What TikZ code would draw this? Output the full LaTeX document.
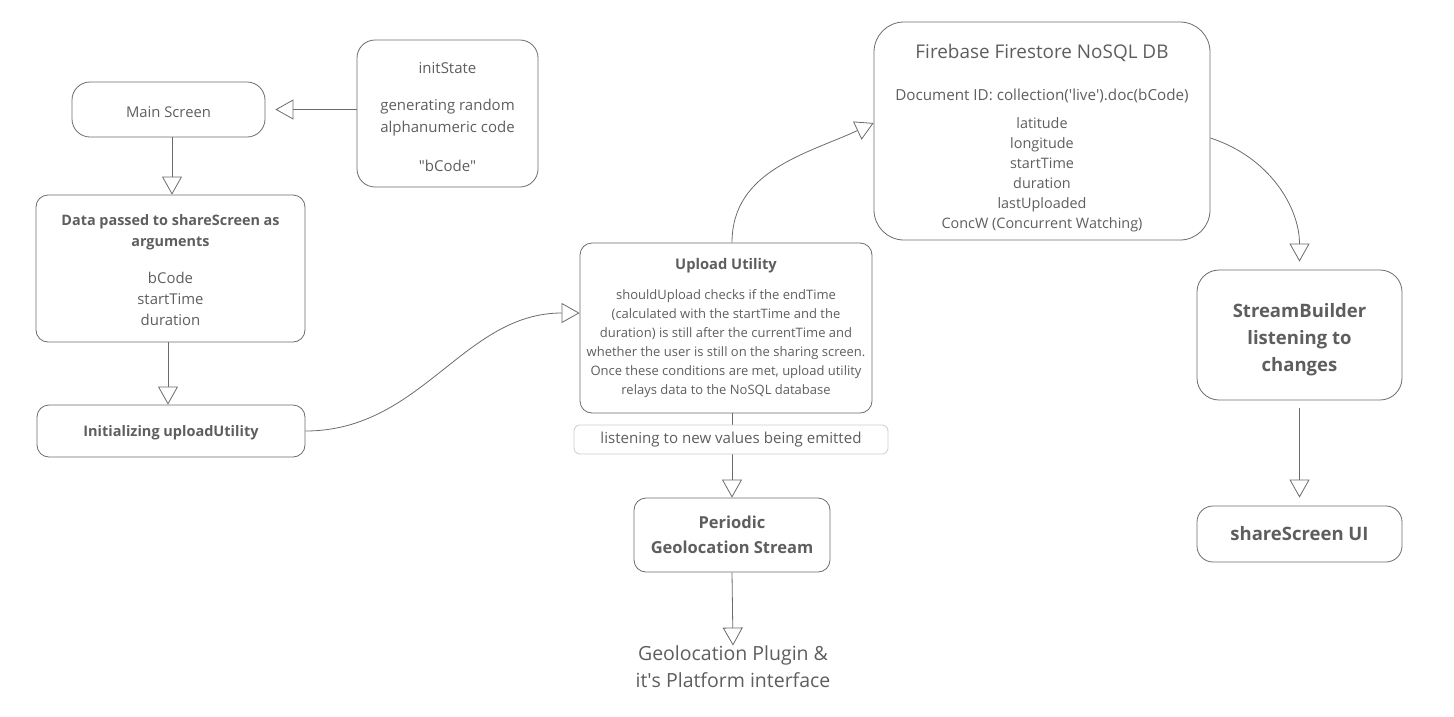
\documentclass[tikz,border=0pt]{standalone}
\usepackage{fontspec}
\setmainfont{Open Sans}
\usetikzlibrary{arrows.meta}
\definecolor{ink}{HTML}{5E5E5E}
\definecolor{edge}{HTML}{6B6B6B}
\definecolor{faint}{HTML}{CCCCCC}
\begin{document}
\begin{tikzpicture}[x=1pt,y=-1pt,line width=0.8pt,
  box/.style={draw=edge,rounded corners=12pt,text=ink,align=center,inner sep=0pt},
  tag/.style={draw=faint,fill=white,rounded corners=6pt,text=ink,inner sep=0pt},
  flow/.style={draw=edge,-{Triangle[length=18pt,width=20pt,fill=white]}}]
\useasboundingbox (0,0) rectangle (1454,716);
% left column
  \node[box,rounded corners=18pt,minimum width=193pt,minimum height=55pt,font=\fontsize{14.8}{19}\selectfont] (main) at (168.5,109.5) {\rule{0pt}{17pt}Main Screen};
  \node[box,rounded corners=18pt,minimum width=181pt,minimum height=147pt,font=\fontsize{15}{22}\selectfont] (init) at (447.5,113.5)
    {\rule{0pt}{19pt}initState\\[15pt]generating random\\alphanumeric code\\[17pt]\textquotedbl bCode\textquotedbl};
  \node[box,minimum width=269pt,minimum height=147pt,font=\fontsize{14.9}{21}\selectfont] (args) at (170.5,268.5)
    {\rule{0pt}{15pt}{\fontsize{14.4}{21}\selectfont\bfseries Data passed to shareScreen as}\\{\fontsize{14.4}{21}\selectfont\bfseries arguments}\\[16pt]bCode\\startTime\\duration};
  \node[box,minimum width=268pt,minimum height=52pt,font=\fontsize{14.5}{19}\selectfont\bfseries] (initup) at (171,431) {\rule{0pt}{15pt}Initializing uploadUtility};
% middle column
  \node[box,minimum width=292pt,minimum height=170pt,font=\fontsize{13}{19}\selectfont] (up) at (726,328)
    {{\fontsize{14.7}{19}\selectfont\bfseries Upload Utility}\\[11pt]shouldUpload checks if the endTime\\(calculated with the startTime and the\\duration) is still after the currentTime and\\whether the user is still on the sharing screen.\\Once these conditions are met, upload utility\\relays data to the NoSQL database};
  \node[box,minimum width=196pt,minimum height=74pt,font=\fontsize{16.5}{25}\selectfont\bfseries] (per) at (732,535) {Periodic\\Geolocation Stream};
  \node[text=ink,align=center,inner sep=0pt,font=\fontsize{19.5}{27}\selectfont] (plug) at (733,667) {Geolocation Plugin \&\\it\textquotesingle s Platform interface};
% right column
  \node[box,rounded corners=30pt,minimum width=336pt,minimum height=218pt,font=\fontsize{14.4}{20}\selectfont] (db) at (1042,131)
    {\rule{0pt}{29pt}{\fontsize{18.9}{20}\selectfont Firebase Firestore NoSQL DB}\\[22pt]{\fontsize{15.2}{20}\selectfont Document ID: collection(\textquotesingle live\textquotesingle).doc(bCode)}\\[8pt]latitude\\longitude\\startTime\\duration\\lastUploaded\\ConcW (Concurrent Watching)};
  \node[box,rounded corners=22pt,minimum width=205pt,minimum height=130pt,font=\fontsize{18.5}{27}\selectfont\bfseries] (stream) at (1299.5,335) {\rule{0pt}{24pt}StreamBuilder\\listening to\\changes};
  \node[box,rounded corners=16pt,minimum width=205pt,minimum height=56pt,font=\fontsize{18.5}{27}\selectfont\bfseries] (ui) at (1299.5,534) {shareScreen UI};
% connectors
  \draw[flow,shorten >=10pt] (init.west |- main) -- (main.east);
  \draw[flow] (main.south -| 172,0) -- (args.north -| 172,0);
  \draw[flow] (args.south -| 168,0) -- (initup.north -| 168,0);
  \draw[flow] (initup.east) to[out=0,in=180] ([yshift=15pt]up.west);
  \draw[flow] (up.north -| per.north) to[out=90,in=205] ([yshift=8pt]db.west);
  \draw[flow] (up.south -| per.north) -- (per.north);
  \draw[flow] (per.south) -- (plug.north);
  \draw[flow,shorten >=8pt] ([yshift=-7pt]db.east) to[out=-18,in=90] (stream.north);
  \draw[flow,shorten <=8pt,shorten >=8pt] (stream.south) -- (ui.north);
% label on the stream line
  \node[tag,minimum width=314pt,minimum height=29pt,font=\fontsize{15.1}{19}\selectfont] (emit) at (731,439.5) {listening to new values being emitted};
\end{tikzpicture}
\end{document}
